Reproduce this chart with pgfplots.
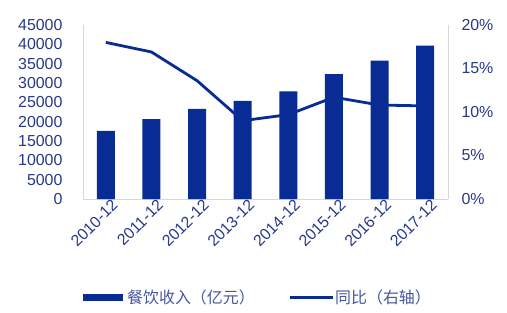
\documentclass[border=0pt]{standalone}
\usepackage{pgfplots}
\pgfplotsset{compat=1.18}
\usepackage{fontspec}
\setmainfont{Liberation Sans}
\newfontfamily\cjk{Noto Sans CJK SC}
\definecolor{barblue}{RGB}{8,44,148}
\definecolor{txtblue}{RGB}{40,56,138}
\definecolor{legblue}{RGB}{70,86,156}
\definecolor{axgray}{RGB}{215,215,215}
\begin{document}
\begin{tikzpicture}[x=1bp,y=1bp]
\pgfplotsset{
  common/.style={
    at={(0,0)}, anchor=south west, scale only axis,
    width=365bp, height=174bp,
    xmin=-0.5, xmax=7.5,
    axis line style={axgray, line width=0.8bp},
    major tick length=0pt,
    tick label style={font=\fontsize{16}{18}\selectfont, text=txtblue},
    /pgf/number format/assume math mode=true,
  }
}
\begin{axis}[common,
  axis x line*=bottom, axis y line*=left,
  ymin=0, ymax=45000, ytick={0,5000,...,45000},
  scaled y ticks=false,
  yticklabel={\pgfmathprintnumber[1000 sep={},fixed]{\tick}},
  yticklabel style={xshift=-17bp},
  xtick=data,
  xticklabels={2010-12,2011-12,2012-12,2013-12,2014-12,2015-12,2016-12,2017-12},
  x tick label style={rotate=45, anchor=north east, inner sep=1bp, xshift=5bp, yshift=-2bp},
  ybar, bar width=18bp,
]
\addplot[fill=barblue, draw=none] coordinates {
(0,17648) (1,20635) (2,23283) (3,25392) (4,27860) (5,32310) (6,35799) (7,39644)};
\end{axis}
\begin{axis}[common,
  axis x line=none, axis y line*=right,
  ymin=0, ymax=20, ytick={0,5,...,20},
  yticklabel={\pgfmathprintnumber{\tick}\%},
  yticklabel style={xshift=10bp},
]
\addplot[barblue, line width=2.8bp, mark=none] coordinates {
(0,18.0) (1,16.9) (2,13.6) (3,9.0) (4,9.7) (5,11.7) (6,10.8) (7,10.7)};
\end{axis}
% legend
\fill[barblue] (0,-102) rectangle (40,-95);
\node[anchor=west, text=legblue, inner sep=0pt] at (44,-98.5) {\cjk\fontsize{16}{18}\selectfont 餐饮收入（亿元）};
\draw[barblue, line width=2.8bp] (207,-98.5) -- (250,-98.5);
\node[anchor=west, text=legblue, inner sep=0pt] at (252,-98.5) {\cjk\fontsize{16}{18}\selectfont 同比（右轴）};
\path (-83,-113) rectangle (424,199);
\end{tikzpicture}
\end{document}
